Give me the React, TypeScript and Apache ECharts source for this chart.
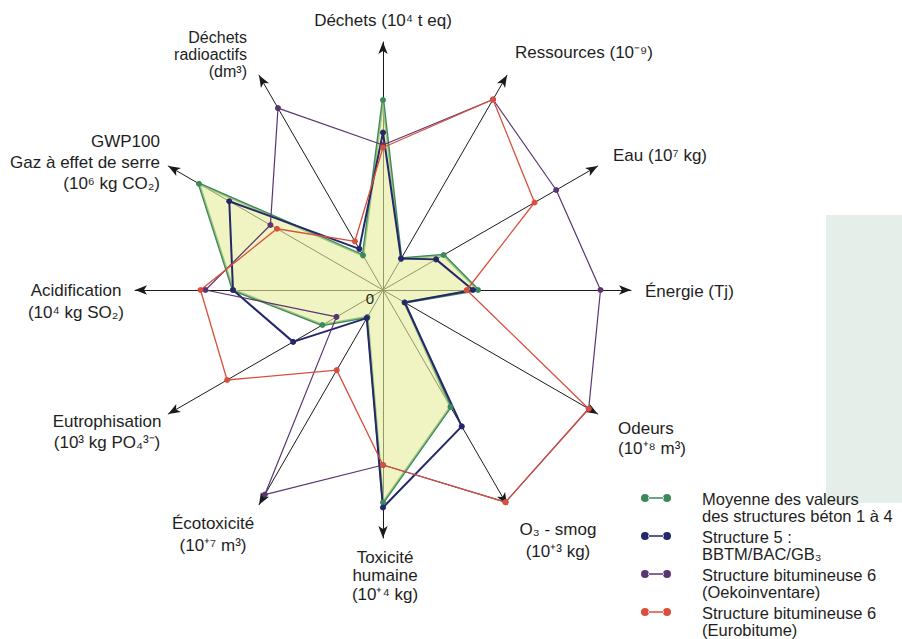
import React, { useEffect, useRef } from "react";
import * as echarts from "echarts";

// Axes, clockwise from the top
const axisNames = [
  "Déchets (10⁴ t eq)",
  "Ressources (10⁻⁹)",
  "Eau (10⁷ kg)",
  "Énergie (Tj)",
  "Odeurs (10⁺⁸ m³)",
  "O₃ - smog (10⁺³ kg)",
  "Toxicité humaine (10⁺⁴ kg)",
  "Écotoxicité (10⁺⁷ m³)",
  "Eutrophisation (10³ kg PO₄³⁻)",
  "Acidification (10⁴ kg SO₂)",
  "GWP100 Gaz à effet de serre (10⁶ kg CO₂)",
  "Déchets radioactifs (dm³)",
];

// Axis label lines (same order)
const axisLabelLines = [
  ["Déchets (10⁴ t eq)"],
  ["Ressources (10⁻⁹)"],
  ["Eau (10⁷ kg)"],
  ["Énergie (Tj)"],
  ["Odeurs", "(10⁺⁸ m³)"],
  ["O₃ - smog", "(10⁺³ kg)"],
  ["Toxicité", "humaine", "(10⁺⁴ kg)"],
  ["Écotoxicité", "(10⁺⁷ m³)"],
  ["Eutrophisation", "(10³ kg PO₄³⁻)"],
  ["Acidification", "(10⁴ kg SO₂)"],
  ["GWP100", "Gaz à effet de serre", "(10⁶ kg CO₂)"],
  ["Déchets", "radioactifs", "(dm³)"],
];

// Relative values (share of axis length, %), clockwise from the top
const moyenneBeton = [76, 14.5, 28, 38, 10, 54, 85, 12.5, 28, 60, 85, 16];
const structure5 = [63, 14.5, 24.5, 36, 10, 63, 87, 13, 41.5, 60, 71, 19];
const oekoinventare = [58, 88, 80, 87, 95, 98, 70, 94.5, 21.5, 71, 52, 84];
const eurobitume = [57, 88, 70, 33.5, 95, 98, 70, 37, 72, 73, 49, 22.5];

const seriesNames = [
  "Moyenne des valeurs\ndes structures béton 1 à 4",
  "Structure 5 :\nBBTM/BAC/GB₃",
  "Structure bitumineuse 6\n(Oekoinventare)",
  "Structure bitumineuse 6\n(Eurobitume)",
];

const FONT = '"Liberation Sans", Arial, Helvetica, sans-serif';

// label layout: [x, firstLineCenterY, align, lineHeight, fontSize]
const labelLayout: [number, number, string, number, number][] = [
  [383, 20, "center", 18, 17],
  [515, 52, "left", 18, 17],
  [613, 155, "left", 18, 17],
  [645, 291, "left", 18, 17],
  [618, 428, "left", 20, 17],
  [558, 529, "center", 22, 17],
  [385, 557, "center", 18.5, 17],
  [213, 523, "center", 22, 17],
  [107, 421, "center", 21, 17],
  [76, 290, "center", 22, 17],
  [160, 141, "right", 21, 17],
  [247, 37, "right", 17, 16],
];

// ECharts radar runs counter-clockwise
const ccw = (arr: any[]) => [arr[0], ...arr.slice(1).reverse()];

export default function App() {
  const ref = useRef<HTMLDivElement>(null);
  useEffect(() => {
    if (!ref.current) return;
    const chart = echarts.init(ref.current, null, { renderer: "svg" });
    const colors = ["#3c8a5c", "#24286a", "#5a3570", "#d8503c"];
    const widths = [2.6, 2, 1.2, 1.3];
    const values = [moyenneBeton, structure5, oekoinventare, eurobitume];

    const labels = axisLabelLines.map((lines, i) => {
      const [x, y, align, lh, fs] = labelLayout[i];
      return {
        type: "text",
        z: 10,
        style: {
          text: lines.join("\n"),
          x,
          y: y - lh / 2,
          align,
          verticalAlign: "top",
          fontSize: fs,
          fontFamily: FONT,
          lineHeight: lh,
          fill: "#1e1e1e",
        },
      };
    });

    chart.setOption({
      animation: false,
      backgroundColor: "#ffffff",
      graphic: [
        {
          type: "rect",
          z: -1,
          shape: { x: 826, y: 215, width: 76, height: 288 },
          style: { fill: "#e5eee9" },
        },
        {
          type: "text",
          z: 10,
          style: {
            text: "0",
            x: 370,
            y: 298,
            align: "center",
            verticalAlign: "middle",
            fontSize: 15,
            fontFamily: FONT,
            fill: "#1e1e1e",
          },
        },
        ...labels,
      ],
      legend: {
        orient: "vertical",
        left: 641,
        top: 490,
        height: 170,
        padding: 0,
        itemWidth: 30,
        itemHeight: 26,
        itemGap: 4,
        icon:
          "path://M0,4a4,4 0 1,0 8,0a4,4 0 1,0 -8,0zM7,3.2h16v1.6h-16zM22,4a4,4 0 1,0 8,0a4,4 0 1,0 -8,0zM15,26h0.01v-0.01h-0.01z",
        textStyle: {
          fontSize: 16.5,
          fontFamily: FONT,
          color: "#1e1e1e",
          lineHeight: 17,
          padding: [0, 0, 0, 26],
        },
        data: seriesNames,
        selectedMode: false,
      },
      radar: {
        center: [383, 290],
        radius: 248,
        startAngle: 90,
        shape: "polygon",
        splitNumber: 1,
        indicator: ccw(axisNames).map((n) => ({ name: n, min: 0, max: 99.2 })),
        axisName: { show: false },
        splitLine: { show: false },
        splitArea: { show: false },
        axisTick: { show: false },
        axisLabel: { show: false },
        axisLine: {
          show: true,
          symbol: ["none", "arrow"],
          symbolSize: [7, 12],
          lineStyle: { color: "#1a1a1a", width: 1 },
        },
      },
      series: [
        {
          type: "radar",
          symbol: "circle",
          symbolSize: 6,
          data: values.map((v, i) => ({
            name: seriesNames[i],
            value: ccw(v),
            lineStyle: { color: colors[i], width: widths[i] },
            itemStyle: { color: colors[i] },
            ...(i === 0
              ? { areaStyle: { color: "#e4ec9a", opacity: 0.6 } }
              : {}),
          })),
        },
      ],
    });
    return () => chart.dispose();
  }, []);
  return (
    <div
      ref={ref}
      style={{ position: "fixed", left: 0, top: 0, width: 902, height: 639 }}
    />
  );
}
